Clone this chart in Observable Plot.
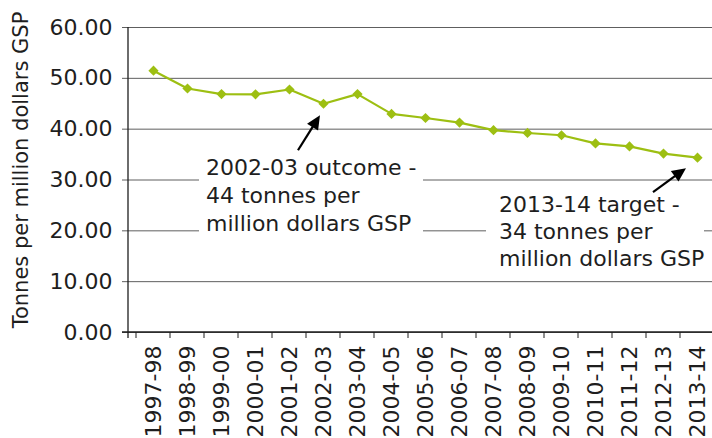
<!DOCTYPE html>
<html><head><meta charset="utf-8">
<script src="https://cdn.jsdelivr.net/npm/d3@7"></script>
<script src="https://cdn.jsdelivr.net/npm/@observablehq/plot@0.6"></script>
<style>
html,body{margin:0;padding:0;background:#fff;overflow:hidden;width:712px;height:438px;}
#wrap{position:relative;width:712px;height:438px;overflow:hidden;}
#chart{position:absolute;left:0;top:0;}
#deco{position:absolute;left:-20px;top:367px;width:54px;height:100px;border:1px solid #d5dca0;border-radius:11px;}
</style></head><body><div id="wrap"><div id="deco"></div><div id="chart"></div></div>
<script>
const years = ["1997-98","1998-99","1999-00","2000-01","2001-02","2002-03","2003-04","2004-05","2005-06","2006-07","2007-08","2008-09","2009-10","2010-11","2011-12","2012-13","2013-14"];
const values = [51.5, 48.0, 46.9, 46.85, 47.8, 45.0, 46.9, 43.0, 42.2, 41.3, 39.8, 39.25, 38.8, 37.2, 36.6, 35.2, 34.4];
const yTicks = [0, 10, 20, 30, 40, 50, 60];
const yTitle = "Tonnes per million dollars GSP";
const noteYears = ["2002-03", "2013-14"];
const noteLines = [
  ["2002-03 outcome -", "44 tonnes per", "million dollars GSP"],
  ["2013-14 target -", "34 tonnes per", "million dollars GSP"]
];

const data = years.map((year, i) => ({year, value: values[i]}));
const lineColor = "#9dbf12";
const ink = "#1e1e1e";
const gridColor = "#5e5e5e";

// pixel offsets of each annotation relative to its data point
const noteLayout = [
  {box: [-124, 45, 224, 98], head: [-3, 12], tail: [-25, 47], text: [-117, 72], lh: 28},
  {box: [-211, 29, 218, 90], head: [-11, 11], tail: [-44, 35], text: [-198, 55], lh: 26.7}
];

function decorations(index, scales, values_, dims) {
  const g = d3.create("svg:g");
  const bw = scales.x.bandwidth ? scales.x.bandwidth() : 0;
  const y0 = scales.y(0);
  const left = dims.marginLeft, right = dims.width - dims.marginRight;
  g.append("line").attr("x1", left - 6).attr("x2", right).attr("y1", y0).attr("y2", y0)
    .attr("stroke", ink).attr("stroke-width", 1.3);
  g.append("line").attr("x1", left).attr("x2", left).attr("y1", scales.y(60)).attr("y2", y0 + 6)
    .attr("stroke", ink).attr("stroke-width", 1.3);
  years.concat([null]).forEach((yr) => {
    const x = yr ? scales.x(yr) : scales.x(years[years.length - 1]) + bw;
    g.append("line").attr("x1", x).attr("x2", x).attr("y1", y0).attr("y2", y0 + 6)
      .attr("stroke", ink).attr("stroke-width", 1);
  });
  return g.node();
}

function notesMark(index, scales) {
  const g = d3.create("svg:g");
  const bw = scales.x.bandwidth ? scales.x.bandwidth() : 0;
  noteYears.forEach((yr, k) => {
    const px = scales.x(yr) + bw / 2;
    const py = scales.y(values[years.indexOf(yr)]);
    const L = noteLayout[k];
    g.append("rect").attr("x", px + L.box[0]).attr("y", py + L.box[1])
      .attr("width", L.box[2]).attr("height", L.box[3]).attr("fill", "white");
  });
  return g.node();
}

function arrowsMark(index, scales) {
  const g = d3.create("svg:g");
  const bw = scales.x.bandwidth ? scales.x.bandwidth() : 0;
  noteYears.forEach((yr, k) => {
    const px = scales.x(yr) + bw / 2;
    const py = scales.y(values[years.indexOf(yr)]);
    const L = noteLayout[k];
    const hx = px + L.head[0], hy = py + L.head[1];
    const tx = px + L.tail[0], ty = py + L.tail[1];
    const dx = hx - tx, dy = hy - ty, len = Math.hypot(dx, dy);
    const ux = dx / len, uy = dy / len;
    const hl = 14, hw = 6.5;
    const bx = hx - ux * hl, by = hy - uy * hl;
    g.append("line").attr("x1", tx).attr("y1", ty).attr("x2", bx + ux * 2).attr("y2", by + uy * 2)
      .attr("stroke", "#000").attr("stroke-width", 2.2);
    g.append("path").attr("d", `M${hx},${hy}L${bx - uy * hw},${by + ux * hw}L${bx + uy * hw},${by - ux * hw}Z`)
      .attr("fill", "#000");
    const t = g.append("text").attr("x", px + L.text[0]).attr("y", py + L.text[1])
      .attr("fill", ink).attr("font-size", 22).attr("text-anchor", "start");
    noteLines[k].forEach((s, j) => {
      t.append("tspan").attr("x", px + L.text[0]).attr("y", py + L.text[1] + j * L.lh).text(s);
    });
  });
  return g.node();
}

const plot = Plot.plot({
  width: 712,
  height: 460,
  marginLeft: 128,
  marginRight: -9,
  marginTop: 27,
  marginBottom: 128,
  style: {fontFamily: "DejaVu Sans", fontSize: "22px", color: ink, background: "white", overflow: "hidden"},
  x: {type: "band", domain: years, padding: 0, label: null},
  y: {domain: [0, 60], label: null},
  marks: [
    Plot.gridY(yTicks, {stroke: gridColor, strokeOpacity: 1, strokeWidth: 1}),
    Plot.axisY({ticks: yTicks, tickFormat: d3.format(".2f"), tickSize: 6, tickPadding: 10, fontSize: 22, stroke: gridColor, label: null}),
    Plot.axisX({tickSize: 0, tickRotate: -90, tickPadding: 13, fontSize: 22, label: null}),
    notesMark,
    decorations,
    Plot.line(data, {x: "year", y: "value", stroke: lineColor, strokeWidth: 2.2}),
    Plot.dot(data, {x: "year", y: "value", symbol: "diamond2", r: 4.6, fill: lineColor, stroke: "none"}),
    arrowsMark
  ]
});

const svg = d3.select(plot);
svg.append("text")
  .attr("transform", "translate(28,170) rotate(-90)")
  .attr("text-anchor", "middle")
  .attr("font-size", 21)
  .attr("fill", ink)
  .text(yTitle);

document.getElementById("chart").appendChild(plot);
</script>
</body></html>
